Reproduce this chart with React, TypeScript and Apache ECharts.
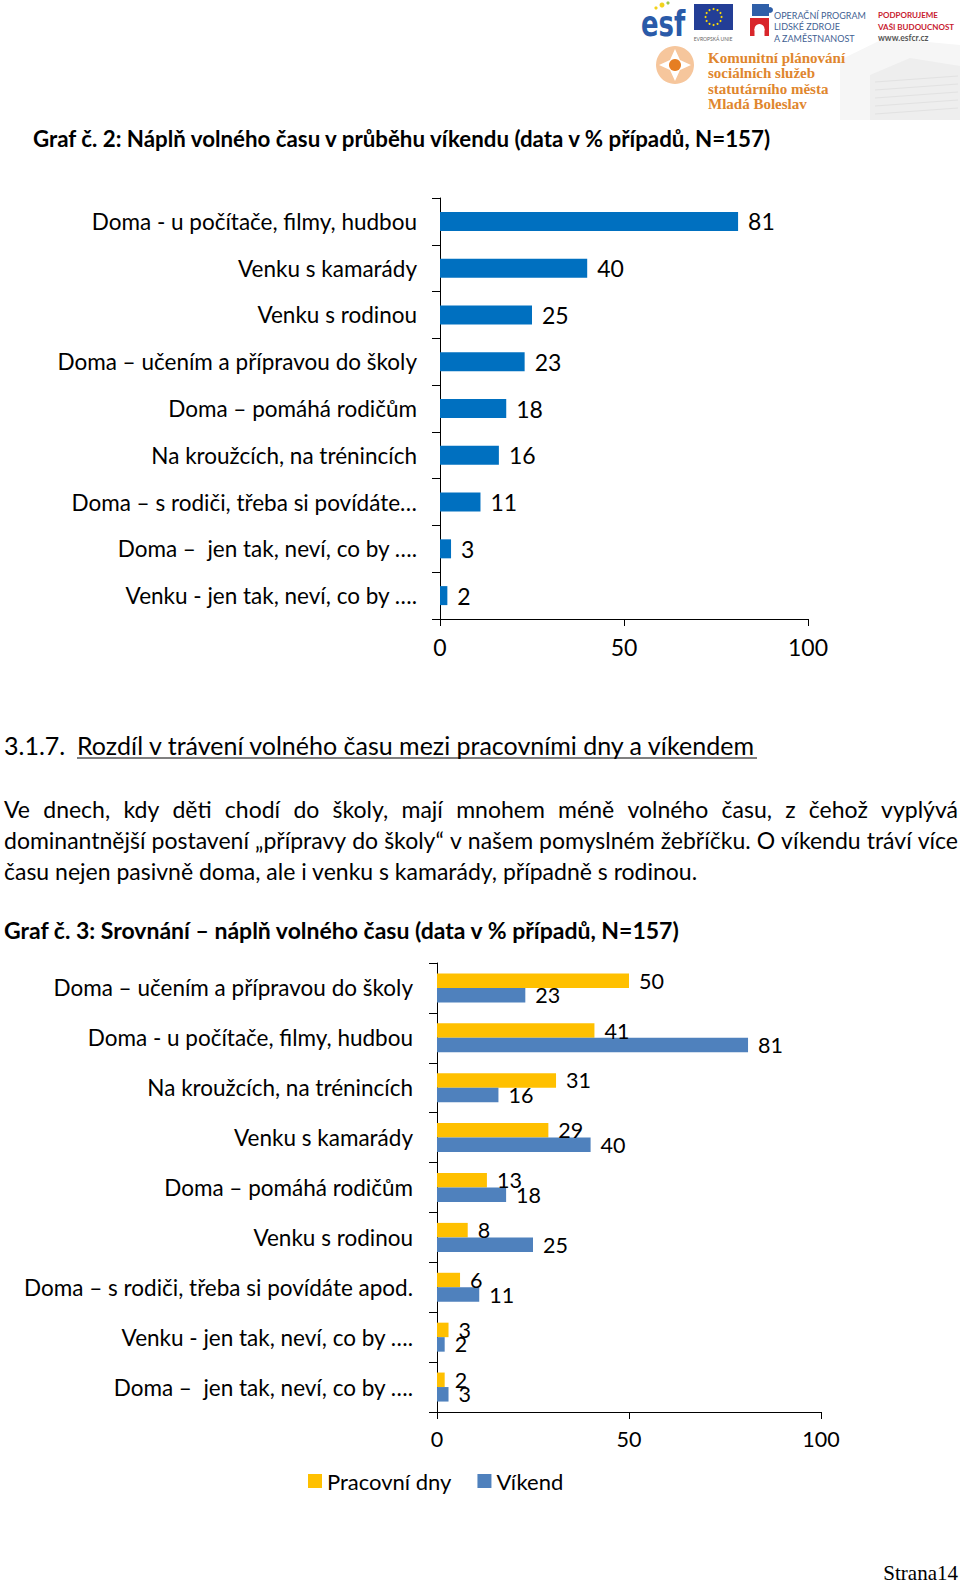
import React, { useEffect, useRef } from "react";
import * as echarts from "echarts";

// ---- Data ----
const weekendCategories = [
  "Doma - u počítače, filmy, hudbou",
  "Venku s kamarády",
  "Venku s rodinou",
  "Doma – učením a přípravou do školy",
  "Doma – pomáhá rodičům",
  "Na kroužcích, na trénincích",
  "Doma – s rodiči, třeba si povídáte…",
  "Doma –  jen tak, neví, co by ….",
  "Venku - jen tak, neví, co by ….",
];
const weekendValues = [81, 40, 25, 23, 18, 16, 11, 3, 2];

const compareCategories = [
  "Doma – učením a přípravou do školy",
  "Doma - u počítače, filmy, hudbou",
  "Na kroužcích, na trénincích",
  "Venku s kamarády",
  "Doma – pomáhá rodičům",
  "Venku s rodinou",
  "Doma – s rodiči, třeba si povídáte apod.",
  "Venku - jen tak, neví, co by ….",
  "Doma –  jen tak, neví, co by ….",
];
const workdayValues = [50, 41, 31, 29, 13, 8, 6, 3, 2];
const weekendCompareValues = [23, 81, 16, 40, 18, 25, 11, 2, 3];

const seriesNames = ["Pracovní dny", "Víkend"];

const title2 = "Graf č. 2: Náplň volného času v průběhu víkendu (data v % případů, N=157)";
const title3 = "Graf č. 3: Srovnání – náplň volného času (data v % případů, N=157)";
const headingNum = "3.1.7.";
const headingText = "Rozdíl v trávení volného času mezi pracovními dny a víkendem";
const paragraphLines = [
  "Ve dnech, kdy děti chodí do školy, mají mnohem méně volného času, z čehož vyplývá",
  "dominantnější postavení „přípravy do školy“ v našem pomyslném žebříčku. O víkendu tráví více",
  "času nejen pasivně doma, ale i venku s kamarády, případně s rodinou.",
];
const pageLabel = "Strana14";
const logoLines = ["Komunitní plánování", "sociálních služeb", "statutárního města", "Mladá Boleslav"];
const opLines = ["OPERAČNÍ PROGRAM", "LIDSKÉ ZDROJE", "A ZAMĚSTNANOST"];
const supportLines = ["PODPORUJEME", "VAŠI BUDOUCNOST", "www.esfcr.cz"];

const FONT = "Lato";

function measure(text: string, font: string): number {
  const c = document.createElement("canvas").getContext("2d")!;
  c.font = font;
  return c.measureText(text).width;
}

function justifiedLine(line: string, x0: number, x1: number, y: number, size: number): any[] {
  const font = `${size}px ${FONT}`;
  const words = line.split(" ");
  const widths = words.map((w) => measure(w, font));
  const sum = widths.reduce((a, b) => a + b, 0);
  const gap = (x1 - x0 - sum) / (words.length - 1);
  const out: any[] = [];
  let x = x0;
  words.forEach((w, i) => {
    out.push({
      type: "text",
      x,
      y,
      style: { text: w, fontSize: size, fontFamily: FONT, fill: "#000", textVerticalAlign: "middle" },
    });
    x += widths[i] + gap;
  });
  return out;
}

function buildGraphics(): any[] {
  const g: any[] = [];
  // faint background building
  g.push({ type: "polygon", shape: { points: [[840, 120], [840, 60], [885, 38], [960, 45], [960, 120]] }, style: { fill: "#f6f6f6" } });
  g.push({ type: "polygon", shape: { points: [[870, 120], [870, 75], [910, 58], [960, 66], [960, 120]] }, style: { fill: "#eeeeee" } });
  for (let i = 0; i < 5; i++) {
    g.push({ type: "line", shape: { x1: 875, y1: 82 + i * 8, x2: 958, y2: 76 + i * 8 }, style: { stroke: "#e2e2e2", lineWidth: 1 } });
  }
  // esf logo
  g.push({ type: "text", x: 641, y: 23, scaleX: 0.72, style: { text: "esf", fontSize: 36, fontWeight: "bold", fontFamily: "DejaVu Sans", fill: "#2a5aa8", textVerticalAlign: "middle" } });
  g.push({ type: "circle", shape: { cx: 662, cy: 5, r: 2.5 }, style: { fill: "#f2d21b" } });
  g.push({ type: "circle", shape: { cx: 668, cy: 3, r: 1.6 }, style: { fill: "#9cc84a" } });
  g.push({ type: "circle", shape: { cx: 656, cy: 8, r: 1.6 }, style: { fill: "#f2d21b" } });
  // EU flag
  g.push({ type: "rect", shape: { x: 694, y: 4, width: 39, height: 26 }, style: { fill: "#233e96" } });
  for (let i = 0; i < 12; i++) {
    const a = (i / 12) * Math.PI * 2;
    g.push({ type: "circle", shape: { cx: 713.5 + 8 * Math.cos(a), cy: 17 + 8 * Math.sin(a), r: 1 }, style: { fill: "#ffdd00" } });
  }
  g.push({ type: "text", x: 713, y: 39, style: { text: "EVROPSKÁ UNIE", fontSize: 5, fontFamily: FONT, fill: "#666", textAlign: "center", textVerticalAlign: "middle" } });
  // puzzle icon
  g.push({ type: "rect", shape: { x: 752, y: 4, width: 17, height: 12 }, style: { fill: "#2f5fa8" } });
  g.push({ type: "circle", shape: { cx: 770, cy: 10, r: 3 }, style: { fill: "#2f5fa8" } });
  g.push({ type: "rect", shape: { x: 750, y: 18, width: 19, height: 18 }, style: { fill: "#d9262b" } });
  g.push({ type: "circle", shape: { cx: 759.5, cy: 29, r: 5 }, style: { fill: "#fff" } });
  g.push({ type: "rect", shape: { x: 754.5, y: 29, width: 10, height: 7 }, style: { fill: "#fff" } });
  opLines.forEach((t, i) => {
    g.push({ type: "text", x: 774, y: 15 + i * 11.5, style: { text: t, fontSize: 9, fontFamily: FONT, fill: "#3f5f93", textVerticalAlign: "middle" } });
  });
  supportLines.forEach((t, i) => {
    g.push({ type: "text", x: 878, y: 15 + i * 11.5, style: { text: t, fontSize: i === 2 ? 8.5 : 8, fontWeight: "bold", fontFamily: FONT, fill: i === 2 ? "#555" : "#c8202f", textVerticalAlign: "middle" } });
  });
  // emblem
  g.push({ type: "circle", shape: { cx: 675, cy: 65, r: 19 }, style: { fill: "#f6c69c" } });
  g.push({ type: "polygon", shape: { points: [[675, 49], [680, 60], [691, 65], [680, 70], [675, 81], [670, 70], [659, 65], [670, 60]] }, style: { fill: "#fff" } });
  g.push({ type: "circle", shape: { cx: 675, cy: 65, r: 6 }, style: { fill: "#e67e22" } });
  logoLines.forEach((t, i) => {
    g.push({ type: "text", x: 708, y: 58 + i * 15.3, style: { text: t, fontSize: 15, fontWeight: "bold", fontFamily: "Liberation Serif", fill: "#e0862e", textVerticalAlign: "middle" } });
  });

  // Titles
  g.push({ type: "text", x: 33, y: 138, style: { text: title2, fontSize: 22.3, fontWeight: "bold", fontFamily: FONT, fill: "#000", textVerticalAlign: "middle" } });
  g.push({ type: "text", x: 4, y: 745, style: { text: headingNum, fontSize: 25, fontFamily: FONT, fill: "#000", textVerticalAlign: "middle" } });
  g.push({ type: "text", x: 77, y: 745, style: { text: headingText, fontSize: 25, fontFamily: FONT, fill: "#000", textVerticalAlign: "middle" } });
  const hw = measure(headingText, `25px ${FONT}`);
  g.push({ type: "line", shape: { x1: 77, y1: 758, x2: 77 + hw, y2: 758 }, style: { stroke: "#000", lineWidth: 1 } });

  g.push(...justifiedLine(paragraphLines[0], 4, 958, 809, 23));
  g.push(...justifiedLine(paragraphLines[1], 4, 958, 840, 23));
  g.push({ type: "text", x: 4, y: 871, style: { text: paragraphLines[2], fontSize: 23, fontFamily: FONT, fill: "#000", textVerticalAlign: "middle" } });

  g.push({ type: "text", x: 4, y: 930, style: { text: title3, fontSize: 23, fontWeight: "bold", fontFamily: FONT, fill: "#000", textVerticalAlign: "middle" } });

  g.push({ type: "text", x: 958, y: 1573, style: { text: pageLabel, fontSize: 21, fontFamily: "Liberation Serif", fill: "#000", textAlign: "right", textVerticalAlign: "middle" } });
  return g;
}

export default function App() {
  const ref = useRef<HTMLDivElement>(null);
  useEffect(() => {
    if (!ref.current) return;
    const chart = echarts.init(ref.current, undefined, { renderer: "svg" });
    const axisCommon = {
      axisLine: { show: true, lineStyle: { color: "#000", width: 1 } },
      axisTick: { show: true, lineStyle: { color: "#000" } },
      splitLine: { show: false },
    };
    chart.setOption({
      animation: false,
      backgroundColor: "#fff",
      textStyle: { fontFamily: FONT },
      grid: [
        { left: 440, top: 198, width: 368, height: 421, containLabel: false },
        { left: 437, top: 963, width: 384, height: 449, containLabel: false },
      ],
      xAxis: [
        {
          gridIndex: 0, type: "value", min: 0, max: 100, interval: 50, ...axisCommon,
          axisTick: { show: true, length: 7, lineStyle: { color: "#000" } },
          axisLabel: { fontSize: 23, color: "#000", fontFamily: FONT, margin: 16 },
        },
        {
          gridIndex: 1, type: "value", min: 0, max: 100, interval: 50, ...axisCommon,
          axisTick: { show: true, length: 7, lineStyle: { color: "#000" } },
          axisLabel: { fontSize: 21.5, color: "#000", fontFamily: FONT, margin: 16 },
        },
      ],
      yAxis: [
        {
          gridIndex: 0, type: "category", data: weekendCategories, inverse: true, ...axisCommon,
          axisTick: { show: true, length: 8, interval: 0, alignWithLabel: false, lineStyle: { color: "#000" } },
          axisLabel: { fontSize: 22.5, color: "#000", fontFamily: FONT, margin: 23, interval: 0 },
        },
        {
          gridIndex: 1, type: "category", data: compareCategories, inverse: true, ...axisCommon,
          axisTick: { show: true, length: 8, interval: 0, alignWithLabel: false, lineStyle: { color: "#000" } },
          axisLabel: { fontSize: 22.5, color: "#000", fontFamily: FONT, margin: 24, interval: 0 },
        },
      ],
      legend: {
        data: seriesNames,
        left: 303,
        top: 1465,
        icon: "rect",
        itemWidth: 14,
        itemHeight: 14,
        itemGap: 26,
        textStyle: { fontSize: 22, color: "#000", fontFamily: FONT },
      },
      series: [
        {
          name: "Víkend (graf 2)",
          type: "bar",
          xAxisIndex: 0,
          yAxisIndex: 0,
          data: weekendValues,
          barWidth: 19,
          itemStyle: { color: "#0070c0" },
          label: { show: true, position: "right", distance: 10, fontSize: 23, color: "#000", fontFamily: FONT },
        },
        {
          name: seriesNames[0],
          type: "bar",
          xAxisIndex: 1,
          yAxisIndex: 1,
          data: workdayValues,
          barWidth: 14.5,
          barGap: "0%",
          itemStyle: { color: "#ffc000" },
          label: { show: true, position: "right", distance: 10, fontSize: 21.5, color: "#000", fontFamily: FONT },
        },
        {
          name: seriesNames[1],
          type: "bar",
          xAxisIndex: 1,
          yAxisIndex: 1,
          data: weekendCompareValues,
          barWidth: 14.5,
          barGap: "0%",
          itemStyle: { color: "#4f81bd" },
          label: { show: true, position: "right", distance: 10, fontSize: 21.5, color: "#000", fontFamily: FONT },
        },
      ],
      graphic: buildGraphics(),
    });
    return () => chart.dispose();
  }, []);
  return (
    <div
      ref={ref}
      style={{ position: "absolute", left: 0, top: 0, width: 960, height: 1584, background: "#fff" }}
    />
  );
}
